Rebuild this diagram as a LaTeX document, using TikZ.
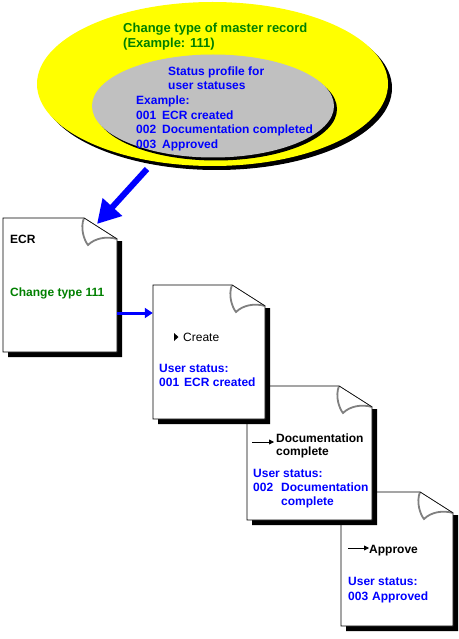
\documentclass[tikz,border=0pt]{standalone}
\usepackage{fontspec}
\setmainfont{Liberation Sans}
\usetikzlibrary{arrows.meta,fit,shapes.geometric}
\definecolor{tgreen}{RGB}{0,128,0}
\definecolor{tblue}{RGB}{0,0,255}
\definecolor{tyellow}{RGB}{255,255,0}
\definecolor{tgray}{RGB}{192,192,192}
\definecolor{curlgray}{RGB}{128,128,128}
\tikzset{
  txt/.style={anchor=base west, inner sep=0pt, font=\fontsize{12}{14}\selectfont\bfseries},
  gtxt/.style={txt, text=tgreen},
  btxt/.style={txt, text=tblue},
  ttl/.style={anchor=base west, inner sep=0pt, font=\fontsize{13}{15}\selectfont\bfseries, text=tgreen},
  bigarrow/.style={draw=tblue, line width=6pt, -{Triangle[length=23pt,width=25pt]}},
  linkarrow/.style={draw=tblue, line width=3pt, -{Triangle[length=8pt,width=10pt]}},
  smallarrow/.style={draw=black, line width=0.8pt, -{Triangle[length=5pt,width=5pt]}},
  docshadow/.style={fill=black, draw=none},
}
\newcommand\drawdoc[5]{%
  \path[docshadow] (#4,#3+23) -- (#4+5,#3+23) -- (#4+5,#5+5) -- (#2+5,#5+5) -- (#2+5,#5) -- (#4,#5) -- cycle;
  \draw[fill=white, line width=0.9pt] (#2,#3) -- (#4-33,#3) -- (#4,#3+21) -- (#4,#5) -- (#2,#5) -- cycle;
  \draw[fill=white, draw=curlgray, line width=1.8pt] (#4-33,#3) .. controls (#4-37,#3+10) and (#4-33,#3+22) .. (#4-29,#3+27) .. controls (#4-22,#3+20) and (#4-10,#3+18) .. (#4,#3+21);
  \draw[line width=0.5pt] (#4-33,#3) -- (#4,#3+21);
  \node[fit={(#2,#3) (#4,#5)}, inner sep=0pt] (#1) {};
}
\begin{document}
\begin{tikzpicture}[x=1pt,y=-1pt]
\useasboundingbox (0,0) rectangle (458,639);
% master record ellipse
\node[ellipse, fill=black, minimum width=351pt, minimum height=164pt, inner sep=0pt] (mastershadow) at (216.5,88) {};
\node[ellipse, fill=tyellow, minimum width=351pt, minimum height=164pt, inner sep=0pt] (master) at (212.5,84) {};
\node[ellipse, fill=black, minimum width=242pt, minimum height=103pt, inner sep=0pt] (profileshadow) at (216,109) {};
\node[ellipse, fill=tgray, minimum width=242pt, minimum height=103pt, inner sep=0pt] (profile) at (213,106) {};
\node[ttl] (t1) at (123,33) {Change type of master record};
\node[ttl] (t2) at (123,48) {(Example: 111)};
\node[btxt] (p1) at (168,76) {Status profile for};
\node[btxt] (p2) at (168,90) {user statuses};
\node[btxt] (p3) at (136,105) {Example:};
\node[btxt] (p4) at (136,120) {\makebox[26pt][l]{001}ECR created};
\node[btxt] (p5) at (136,134) {\makebox[26pt][l]{002}Documentation completed};
\node[btxt] (p6) at (136,149) {\makebox[26pt][l]{003}Approved};
% documents, back to front
\drawdoc{approve}{341}{492}{453}{626}
\drawdoc{doccomp}{247}{386}{372}{520}
\drawdoc{create}{153}{285}{265}{419}
\drawdoc{ecr}{3}{218}{117}{352}
% ECR text
\node[txt] (e1) at (10,243) {ECR};
\node[gtxt] (e2) at (10,296) {Change type 111};
% Create text
\fill[black] (174,333) -- (178.5,337) -- (174,341) -- cycle;
\node[anchor=base west, inner sep=0pt, font=\fontsize{12}{14}\selectfont] (c1) at (183,341) {Create};
\node[btxt] (c2) at (159,372) {User status:};
\node[btxt] (c3) at (159,386) {\makebox[25pt][l]{001}ECR created};
% Documentation complete text
\coordinate (a2s) at (252,442);
\coordinate (a2e) at (274,442);
\draw[smallarrow] (a2s) -- (a2e);
\node[txt] (d1) at (276,442) {Documentation};
\node[txt] (d2) at (276,455) {complete};
\node[btxt] (d3) at (253,477) {User status:};
\node[btxt] (d4) at (253,491) {\makebox[28pt][l]{002}Documentation};
\node[btxt] (d5) at (281,505) {complete};
% Approve text
\coordinate (a3s) at (348,548);
\coordinate (a3e) at (369,548);
\draw[smallarrow] (a3s) -- (a3e);
\node[txt] (f1) at (369,553) {Approve};
\node[btxt] (f2) at (348,585) {User status:};
\node[btxt] (f3) at (348,600) {\makebox[24pt][l]{003}Approved};
% connectors
\coordinate (bigstart) at (147,169);
\coordinate (bigend) at (97,224);
\draw[bigarrow] (bigstart) -- (bigend);
\draw[linkarrow] (ecr.east |- 0,313) -- (create.west |- 0,313);
\end{tikzpicture}
\end{document}
